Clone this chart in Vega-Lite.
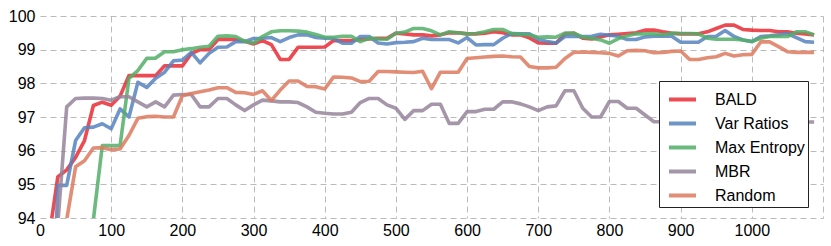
{
"$schema": "https://vega.github.io/schema/vega-lite/v6.json",
"width": 783, "height": 202,
"autosize": {"type": "none"},
"padding": {"left": 40, "top": 16, "right": 8, "bottom": 28},
"background": "white",
"config": {"view": {"stroke": null}, "font": "Liberation Sans"},
"datasets": {"acc": [
{"s":"BALD","x":12.5,"y":93.4},{"s":"BALD","x":25,"y":95.22},{"s":"BALD","x":37.5,"y":95.43},{"s":"BALD","x":50,"y":95.8},{"s":"BALD","x":62.5,"y":96.3},{"s":"BALD","x":75,"y":97.34},{"s":"BALD","x":87.5,"y":97.44},{"s":"BALD","x":100,"y":97.35},{"s":"BALD","x":112.5,"y":97.62},{"s":"BALD","x":125,"y":98.23},{"s":"BALD","x":137.5,"y":98.23},{"s":"BALD","x":150,"y":98.23},{"s":"BALD","x":162.5,"y":98.23},{"s":"BALD","x":175,"y":98.52},{"s":"BALD","x":187.5,"y":98.52},{"s":"BALD","x":200,"y":98.52},{"s":"BALD","x":212.5,"y":98.88},{"s":"BALD","x":225,"y":99.0},{"s":"BALD","x":237.5,"y":99.0},{"s":"BALD","x":250,"y":99.3},{"s":"BALD","x":262.5,"y":99.3},{"s":"BALD","x":275,"y":99.3},{"s":"BALD","x":287.5,"y":99.25},{"s":"BALD","x":300,"y":99.17},{"s":"BALD","x":312.5,"y":99.27},{"s":"BALD","x":325,"y":99.15},{"s":"BALD","x":337.5,"y":98.71},{"s":"BALD","x":350,"y":98.71},{"s":"BALD","x":362.5,"y":99.07},{"s":"BALD","x":375,"y":99.07},{"s":"BALD","x":387.5,"y":99.07},{"s":"BALD","x":400,"y":99.08},{"s":"BALD","x":412.5,"y":99.27},{"s":"BALD","x":425,"y":99.27},{"s":"BALD","x":437.5,"y":99.27},{"s":"BALD","x":450,"y":99.3},{"s":"BALD","x":462.5,"y":99.32},{"s":"BALD","x":475,"y":99.34},{"s":"BALD","x":487.5,"y":99.34},{"s":"BALD","x":500,"y":99.49},{"s":"BALD","x":512.5,"y":99.47},{"s":"BALD","x":525,"y":99.44},{"s":"BALD","x":537.5,"y":99.44},{"s":"BALD","x":550,"y":99.41},{"s":"BALD","x":562.5,"y":99.44},{"s":"BALD","x":575,"y":99.5},{"s":"BALD","x":587.5,"y":99.5},{"s":"BALD","x":600,"y":99.47},{"s":"BALD","x":612.5,"y":99.47},{"s":"BALD","x":625,"y":99.49},{"s":"BALD","x":637.5,"y":99.53},{"s":"BALD","x":650,"y":99.5},{"s":"BALD","x":662.5,"y":99.44},{"s":"BALD","x":675,"y":99.44},{"s":"BALD","x":687.5,"y":99.35},{"s":"BALD","x":700,"y":99.2},{"s":"BALD","x":712.5,"y":99.19},{"s":"BALD","x":725,"y":99.19},{"s":"BALD","x":737.5,"y":99.47},{"s":"BALD","x":750,"y":99.49},{"s":"BALD","x":762.5,"y":99.34},{"s":"BALD","x":775,"y":99.32},{"s":"BALD","x":787.5,"y":99.38},{"s":"BALD","x":800,"y":99.44},{"s":"BALD","x":812.5,"y":99.46},{"s":"BALD","x":825,"y":99.48},{"s":"BALD","x":837.5,"y":99.5},{"s":"BALD","x":850,"y":99.58},{"s":"BALD","x":862.5,"y":99.58},{"s":"BALD","x":875,"y":99.53},{"s":"BALD","x":887.5,"y":99.49},{"s":"BALD","x":900,"y":99.47},{"s":"BALD","x":912.5,"y":99.47},{"s":"BALD","x":925,"y":99.47},{"s":"BALD","x":937.5,"y":99.53},{"s":"BALD","x":950,"y":99.63},{"s":"BALD","x":962.5,"y":99.73},{"s":"BALD","x":975,"y":99.73},{"s":"BALD","x":987.5,"y":99.6},{"s":"BALD","x":1000,"y":99.58},{"s":"BALD","x":1012.5,"y":99.57},{"s":"BALD","x":1025,"y":99.57},{"s":"BALD","x":1037.5,"y":99.53},{"s":"BALD","x":1050,"y":99.53},{"s":"BALD","x":1062.5,"y":99.49},{"s":"BALD","x":1075,"y":99.47},{"s":"BALD","x":1087.5,"y":99.44},
{"s":"Var Ratios","x":12.5,"y":87.5},{"s":"Var Ratios","x":25,"y":94.97},{"s":"Var Ratios","x":37.5,"y":94.97},{"s":"Var Ratios","x":50,"y":96.3},{"s":"Var Ratios","x":62.5,"y":96.68},{"s":"Var Ratios","x":75,"y":96.7},{"s":"Var Ratios","x":87.5,"y":96.8},{"s":"Var Ratios","x":100,"y":96.65},{"s":"Var Ratios","x":112.5,"y":97.24},{"s":"Var Ratios","x":125,"y":97.0},{"s":"Var Ratios","x":137.5,"y":98.03},{"s":"Var Ratios","x":150,"y":97.88},{"s":"Var Ratios","x":162.5,"y":98.15},{"s":"Var Ratios","x":175,"y":98.33},{"s":"Var Ratios","x":187.5,"y":98.67},{"s":"Var Ratios","x":200,"y":98.69},{"s":"Var Ratios","x":212.5,"y":98.92},{"s":"Var Ratios","x":225,"y":98.61},{"s":"Var Ratios","x":237.5,"y":98.89},{"s":"Var Ratios","x":250,"y":99.07},{"s":"Var Ratios","x":262.5,"y":99.08},{"s":"Var Ratios","x":275,"y":99.24},{"s":"Var Ratios","x":287.5,"y":99.24},{"s":"Var Ratios","x":300,"y":99.33},{"s":"Var Ratios","x":312.5,"y":99.34},{"s":"Var Ratios","x":325,"y":99.36},{"s":"Var Ratios","x":337.5,"y":99.24},{"s":"Var Ratios","x":350,"y":99.36},{"s":"Var Ratios","x":362.5,"y":99.44},{"s":"Var Ratios","x":375,"y":99.44},{"s":"Var Ratios","x":387.5,"y":99.36},{"s":"Var Ratios","x":400,"y":99.34},{"s":"Var Ratios","x":412.5,"y":99.33},{"s":"Var Ratios","x":425,"y":99.19},{"s":"Var Ratios","x":437.5,"y":99.19},{"s":"Var Ratios","x":450,"y":99.39},{"s":"Var Ratios","x":462.5,"y":99.39},{"s":"Var Ratios","x":475,"y":99.2},{"s":"Var Ratios","x":487.5,"y":99.17},{"s":"Var Ratios","x":500,"y":99.21},{"s":"Var Ratios","x":512.5,"y":99.22},{"s":"Var Ratios","x":525,"y":99.24},{"s":"Var Ratios","x":537.5,"y":99.34},{"s":"Var Ratios","x":550,"y":99.3},{"s":"Var Ratios","x":562.5,"y":99.3},{"s":"Var Ratios","x":575,"y":99.3},{"s":"Var Ratios","x":587.5,"y":99.2},{"s":"Var Ratios","x":600,"y":99.36},{"s":"Var Ratios","x":612.5,"y":99.14},{"s":"Var Ratios","x":625,"y":99.15},{"s":"Var Ratios","x":637.5,"y":99.15},{"s":"Var Ratios","x":650,"y":99.34},{"s":"Var Ratios","x":662.5,"y":99.48},{"s":"Var Ratios","x":675,"y":99.47},{"s":"Var Ratios","x":687.5,"y":99.47},{"s":"Var Ratios","x":700,"y":99.3},{"s":"Var Ratios","x":712.5,"y":99.24},{"s":"Var Ratios","x":725,"y":99.2},{"s":"Var Ratios","x":737.5,"y":99.39},{"s":"Var Ratios","x":750,"y":99.4},{"s":"Var Ratios","x":762.5,"y":99.39},{"s":"Var Ratios","x":775,"y":99.4},{"s":"Var Ratios","x":787.5,"y":99.46},{"s":"Var Ratios","x":800,"y":99.43},{"s":"Var Ratios","x":812.5,"y":99.4},{"s":"Var Ratios","x":825,"y":99.3},{"s":"Var Ratios","x":837.5,"y":99.3},{"s":"Var Ratios","x":850,"y":99.38},{"s":"Var Ratios","x":862.5,"y":99.4},{"s":"Var Ratios","x":875,"y":99.41},{"s":"Var Ratios","x":887.5,"y":99.4},{"s":"Var Ratios","x":900,"y":99.22},{"s":"Var Ratios","x":912.5,"y":99.22},{"s":"Var Ratios","x":925,"y":99.22},{"s":"Var Ratios","x":937.5,"y":99.39},{"s":"Var Ratios","x":950,"y":99.4},{"s":"Var Ratios","x":962.5,"y":99.57},{"s":"Var Ratios","x":975,"y":99.39},{"s":"Var Ratios","x":987.5,"y":99.29},{"s":"Var Ratios","x":1000,"y":99.24},{"s":"Var Ratios","x":1012.5,"y":99.39},{"s":"Var Ratios","x":1025,"y":99.41},{"s":"Var Ratios","x":1037.5,"y":99.44},{"s":"Var Ratios","x":1050,"y":99.48},{"s":"Var Ratios","x":1062.5,"y":99.36},{"s":"Var Ratios","x":1075,"y":99.24},{"s":"Var Ratios","x":1087.5,"y":99.22},
{"s":"Max Entropy","x":62.5,"y":92.0},{"s":"Max Entropy","x":75,"y":93.95},{"s":"Max Entropy","x":87.5,"y":96.15},{"s":"Max Entropy","x":100,"y":96.15},{"s":"Max Entropy","x":112.5,"y":96.15},{"s":"Max Entropy","x":125,"y":98.15},{"s":"Max Entropy","x":137.5,"y":98.38},{"s":"Max Entropy","x":150,"y":98.74},{"s":"Max Entropy","x":162.5,"y":98.75},{"s":"Max Entropy","x":175,"y":98.94},{"s":"Max Entropy","x":187.5,"y":98.94},{"s":"Max Entropy","x":200,"y":99.0},{"s":"Max Entropy","x":212.5,"y":99.03},{"s":"Max Entropy","x":225,"y":99.07},{"s":"Max Entropy","x":237.5,"y":99.1},{"s":"Max Entropy","x":250,"y":99.4},{"s":"Max Entropy","x":262.5,"y":99.41},{"s":"Max Entropy","x":275,"y":99.39},{"s":"Max Entropy","x":287.5,"y":99.25},{"s":"Max Entropy","x":300,"y":99.19},{"s":"Max Entropy","x":312.5,"y":99.39},{"s":"Max Entropy","x":325,"y":99.53},{"s":"Max Entropy","x":337.5,"y":99.56},{"s":"Max Entropy","x":350,"y":99.56},{"s":"Max Entropy","x":362.5,"y":99.55},{"s":"Max Entropy","x":375,"y":99.52},{"s":"Max Entropy","x":387.5,"y":99.45},{"s":"Max Entropy","x":400,"y":99.37},{"s":"Max Entropy","x":412.5,"y":99.37},{"s":"Max Entropy","x":425,"y":99.4},{"s":"Max Entropy","x":437.5,"y":99.4},{"s":"Max Entropy","x":450,"y":99.24},{"s":"Max Entropy","x":462.5,"y":99.34},{"s":"Max Entropy","x":475,"y":99.32},{"s":"Max Entropy","x":487.5,"y":99.31},{"s":"Max Entropy","x":500,"y":99.49},{"s":"Max Entropy","x":512.5,"y":99.52},{"s":"Max Entropy","x":525,"y":99.63},{"s":"Max Entropy","x":537.5,"y":99.63},{"s":"Max Entropy","x":550,"y":99.56},{"s":"Max Entropy","x":562.5,"y":99.44},{"s":"Max Entropy","x":575,"y":99.53},{"s":"Max Entropy","x":587.5,"y":99.5},{"s":"Max Entropy","x":600,"y":99.47},{"s":"Max Entropy","x":612.5,"y":99.48},{"s":"Max Entropy","x":625,"y":99.53},{"s":"Max Entropy","x":637.5,"y":99.6},{"s":"Max Entropy","x":650,"y":99.6},{"s":"Max Entropy","x":662.5,"y":99.48},{"s":"Max Entropy","x":675,"y":99.46},{"s":"Max Entropy","x":687.5,"y":99.44},{"s":"Max Entropy","x":700,"y":99.37},{"s":"Max Entropy","x":712.5,"y":99.38},{"s":"Max Entropy","x":725,"y":99.37},{"s":"Max Entropy","x":737.5,"y":99.49},{"s":"Max Entropy","x":750,"y":99.49},{"s":"Max Entropy","x":762.5,"y":99.37},{"s":"Max Entropy","x":775,"y":99.34},{"s":"Max Entropy","x":787.5,"y":99.29},{"s":"Max Entropy","x":800,"y":99.19},{"s":"Max Entropy","x":812.5,"y":99.33},{"s":"Max Entropy","x":825,"y":99.41},{"s":"Max Entropy","x":837.5,"y":99.47},{"s":"Max Entropy","x":850,"y":99.47},{"s":"Max Entropy","x":862.5,"y":99.47},{"s":"Max Entropy","x":875,"y":99.44},{"s":"Max Entropy","x":887.5,"y":99.49},{"s":"Max Entropy","x":900,"y":99.48},{"s":"Max Entropy","x":912.5,"y":99.48},{"s":"Max Entropy","x":925,"y":99.47},{"s":"Max Entropy","x":937.5,"y":99.34},{"s":"Max Entropy","x":950,"y":99.31},{"s":"Max Entropy","x":962.5,"y":99.31},{"s":"Max Entropy","x":975,"y":99.31},{"s":"Max Entropy","x":987.5,"y":99.29},{"s":"Max Entropy","x":1000,"y":99.24},{"s":"Max Entropy","x":1012.5,"y":99.34},{"s":"Max Entropy","x":1025,"y":99.39},{"s":"Max Entropy","x":1037.5,"y":99.39},{"s":"Max Entropy","x":1050,"y":99.39},{"s":"Max Entropy","x":1062.5,"y":99.53},{"s":"Max Entropy","x":1075,"y":99.53},{"s":"Max Entropy","x":1087.5,"y":99.44},
{"s":"MBR","x":12.5,"y":90.0},{"s":"MBR","x":25,"y":93.8},{"s":"MBR","x":37.5,"y":97.3},{"s":"MBR","x":50,"y":97.55},{"s":"MBR","x":62.5,"y":97.56},{"s":"MBR","x":75,"y":97.56},{"s":"MBR","x":87.5,"y":97.55},{"s":"MBR","x":100,"y":97.5},{"s":"MBR","x":112.5,"y":97.6},{"s":"MBR","x":125,"y":97.6},{"s":"MBR","x":137.5,"y":97.45},{"s":"MBR","x":150,"y":97.3},{"s":"MBR","x":162.5,"y":97.45},{"s":"MBR","x":175,"y":97.3},{"s":"MBR","x":187.5,"y":97.65},{"s":"MBR","x":200,"y":97.67},{"s":"MBR","x":212.5,"y":97.67},{"s":"MBR","x":225,"y":97.3},{"s":"MBR","x":237.5,"y":97.3},{"s":"MBR","x":250,"y":97.55},{"s":"MBR","x":262.5,"y":97.55},{"s":"MBR","x":275,"y":97.36},{"s":"MBR","x":287.5,"y":97.19},{"s":"MBR","x":300,"y":97.36},{"s":"MBR","x":312.5,"y":97.5},{"s":"MBR","x":325,"y":97.48},{"s":"MBR","x":337.5,"y":97.45},{"s":"MBR","x":350,"y":97.45},{"s":"MBR","x":362.5,"y":97.43},{"s":"MBR","x":375,"y":97.3},{"s":"MBR","x":387.5,"y":97.14},{"s":"MBR","x":400,"y":97.11},{"s":"MBR","x":412.5,"y":97.09},{"s":"MBR","x":425,"y":97.09},{"s":"MBR","x":437.5,"y":97.14},{"s":"MBR","x":450,"y":97.43},{"s":"MBR","x":462.5,"y":97.55},{"s":"MBR","x":475,"y":97.55},{"s":"MBR","x":487.5,"y":97.36},{"s":"MBR","x":500,"y":97.26},{"s":"MBR","x":512.5,"y":96.93},{"s":"MBR","x":525,"y":97.19},{"s":"MBR","x":537.5,"y":97.19},{"s":"MBR","x":550,"y":97.38},{"s":"MBR","x":562.5,"y":97.38},{"s":"MBR","x":575,"y":96.81},{"s":"MBR","x":587.5,"y":96.81},{"s":"MBR","x":600,"y":97.16},{"s":"MBR","x":612.5,"y":97.16},{"s":"MBR","x":625,"y":97.23},{"s":"MBR","x":637.5,"y":97.23},{"s":"MBR","x":650,"y":97.45},{"s":"MBR","x":662.5,"y":97.45},{"s":"MBR","x":675,"y":97.39},{"s":"MBR","x":687.5,"y":97.3},{"s":"MBR","x":700,"y":97.19},{"s":"MBR","x":712.5,"y":97.3},{"s":"MBR","x":725,"y":97.33},{"s":"MBR","x":737.5,"y":97.78},{"s":"MBR","x":750,"y":97.78},{"s":"MBR","x":762.5,"y":97.26},{"s":"MBR","x":775,"y":97.0},{"s":"MBR","x":787.5,"y":97.0},{"s":"MBR","x":800,"y":97.46},{"s":"MBR","x":812.5,"y":97.46},{"s":"MBR","x":825,"y":97.26},{"s":"MBR","x":837.5,"y":97.26},{"s":"MBR","x":850,"y":97.06},{"s":"MBR","x":862.5,"y":96.86},{"s":"MBR","x":875,"y":96.86},{"s":"MBR","x":887.5,"y":96.9},{"s":"MBR","x":900,"y":97.0},{"s":"MBR","x":912.5,"y":96.95},{"s":"MBR","x":925,"y":97.1},{"s":"MBR","x":937.5,"y":97.0},{"s":"MBR","x":950,"y":96.9},{"s":"MBR","x":962.5,"y":97.05},{"s":"MBR","x":975,"y":97.1},{"s":"MBR","x":987.5,"y":96.95},{"s":"MBR","x":1000,"y":96.9},{"s":"MBR","x":1012.5,"y":97.0},{"s":"MBR","x":1025,"y":96.95},{"s":"MBR","x":1037.5,"y":96.85},{"s":"MBR","x":1050,"y":96.9},{"s":"MBR","x":1062.5,"y":96.9},{"s":"MBR","x":1075,"y":96.85},{"s":"MBR","x":1087.5,"y":96.85},
{"s":"Random","x":12.5,"y":91.0},{"s":"Random","x":25,"y":92.5},{"s":"Random","x":37.5,"y":93.95},{"s":"Random","x":50,"y":95.52},{"s":"Random","x":62.5,"y":95.7},{"s":"Random","x":75,"y":96.08},{"s":"Random","x":87.5,"y":96.09},{"s":"Random","x":100,"y":96.03},{"s":"Random","x":112.5,"y":96.05},{"s":"Random","x":125,"y":96.45},{"s":"Random","x":137.5,"y":96.96},{"s":"Random","x":150,"y":97.01},{"s":"Random","x":162.5,"y":97.02},{"s":"Random","x":175,"y":97.0},{"s":"Random","x":187.5,"y":97.0},{"s":"Random","x":200,"y":97.63},{"s":"Random","x":212.5,"y":97.7},{"s":"Random","x":225,"y":97.75},{"s":"Random","x":237.5,"y":97.8},{"s":"Random","x":250,"y":97.87},{"s":"Random","x":262.5,"y":97.87},{"s":"Random","x":275,"y":97.73},{"s":"Random","x":287.5,"y":97.72},{"s":"Random","x":300,"y":97.67},{"s":"Random","x":312.5,"y":97.78},{"s":"Random","x":325,"y":97.49},{"s":"Random","x":337.5,"y":97.8},{"s":"Random","x":350,"y":98.07},{"s":"Random","x":362.5,"y":98.07},{"s":"Random","x":375,"y":97.91},{"s":"Random","x":387.5,"y":97.9},{"s":"Random","x":400,"y":97.83},{"s":"Random","x":412.5,"y":98.19},{"s":"Random","x":425,"y":98.18},{"s":"Random","x":437.5,"y":98.16},{"s":"Random","x":450,"y":98.05},{"s":"Random","x":462.5,"y":98.06},{"s":"Random","x":475,"y":98.35},{"s":"Random","x":487.5,"y":98.35},{"s":"Random","x":500,"y":98.34},{"s":"Random","x":512.5,"y":98.33},{"s":"Random","x":525,"y":98.32},{"s":"Random","x":537.5,"y":98.36},{"s":"Random","x":550,"y":97.84},{"s":"Random","x":562.5,"y":98.33},{"s":"Random","x":575,"y":98.33},{"s":"Random","x":587.5,"y":98.33},{"s":"Random","x":600,"y":98.74},{"s":"Random","x":612.5,"y":98.76},{"s":"Random","x":625,"y":98.78},{"s":"Random","x":637.5,"y":98.8},{"s":"Random","x":650,"y":98.81},{"s":"Random","x":662.5,"y":98.79},{"s":"Random","x":675,"y":98.78},{"s":"Random","x":687.5,"y":98.5},{"s":"Random","x":700,"y":98.46},{"s":"Random","x":712.5,"y":98.46},{"s":"Random","x":725,"y":98.48},{"s":"Random","x":737.5,"y":98.74},{"s":"Random","x":750,"y":98.92},{"s":"Random","x":762.5,"y":98.93},{"s":"Random","x":775,"y":98.92},{"s":"Random","x":787.5,"y":98.91},{"s":"Random","x":800,"y":98.89},{"s":"Random","x":812.5,"y":98.81},{"s":"Random","x":825,"y":98.97},{"s":"Random","x":837.5,"y":98.98},{"s":"Random","x":850,"y":98.97},{"s":"Random","x":862.5,"y":98.91},{"s":"Random","x":875,"y":98.92},{"s":"Random","x":887.5,"y":98.95},{"s":"Random","x":900,"y":98.96},{"s":"Random","x":912.5,"y":98.71},{"s":"Random","x":925,"y":98.71},{"s":"Random","x":937.5,"y":98.76},{"s":"Random","x":950,"y":98.79},{"s":"Random","x":962.5,"y":98.89},{"s":"Random","x":975,"y":98.81},{"s":"Random","x":987.5,"y":98.85},{"s":"Random","x":1000,"y":98.86},{"s":"Random","x":1012.5,"y":99.23},{"s":"Random","x":1025,"y":99.23},{"s":"Random","x":1037.5,"y":99.09},{"s":"Random","x":1050,"y":98.94},{"s":"Random","x":1062.5,"y":98.92},{"s":"Random","x":1075,"y":98.92},{"s":"Random","x":1087.5,"y":98.92}
]},
"data": {"name": "acc"},
"mark": {"type": "line", "clip": true, "strokeWidth": 3.6, "opacity": 0.85, "strokeJoin": "round"},
"encoding": {
  "x": {"field": "x", "type": "quantitative",
    "scale": {"domain": [0, 1100], "nice": false, "zero": false},
    "axis": {"title": null, "values": [0,100,200,300,400,500,600,700,800,900,1000,1100],
      "format": "d",
      "labelExpr": "datum.value == 1100 ? '' : datum.label",
      "domain": false, "ticks": false, "tickSize": 0, "labelPadding": 4, "labelFontSize": 16,
      "labelColor": "#000", "labelFlush": false, "grid": true, "gridDash": [6, 4], "gridColor": "#bbbbbb",
      "gridOpacity": {"condition": {"test": "datum.value == 0", "value": 0}, "value": 1}}},
  "y": {"field": "y", "type": "quantitative",
    "scale": {"domain": [94, 100], "nice": false, "zero": false},
    "axis": {"title": null, "values": [94,95,96,97,98,99,100], "format": "d", "domain": false, "ticks": false, "tickSize": 0,
      "labelPadding": 5, "labelFontSize": 16, "labelColor": "#000", "grid": true, "gridDash": [6, 4], "gridColor": "#bbbbbb"}},
  "color": {"field": "s", "type": "nominal",
    "scale": {"domain": ["BALD", "Var Ratios", "Max Entropy", "MBR", "Random"],
      "range": ["#e92c34", "#5783be", "#52ae67", "#95849b", "#dd7a5e"]},
    "legend": {"title": null, "orient": "none", "legendX": 619, "legendY": 65,
      "symbolType": "stroke", "symbolSize": 729, "symbolStrokeWidth": 4, "symbolOpacity": 0.85,
      "labelFontSize": 16, "labelColor": "#000", "labelLimit": 300, "padding": 3, "rowPadding": 0,
      "labelOffset": 17, "symbolOffset": 5, "strokeColor": "#222222", "fillColor": "white"}}
}
}
